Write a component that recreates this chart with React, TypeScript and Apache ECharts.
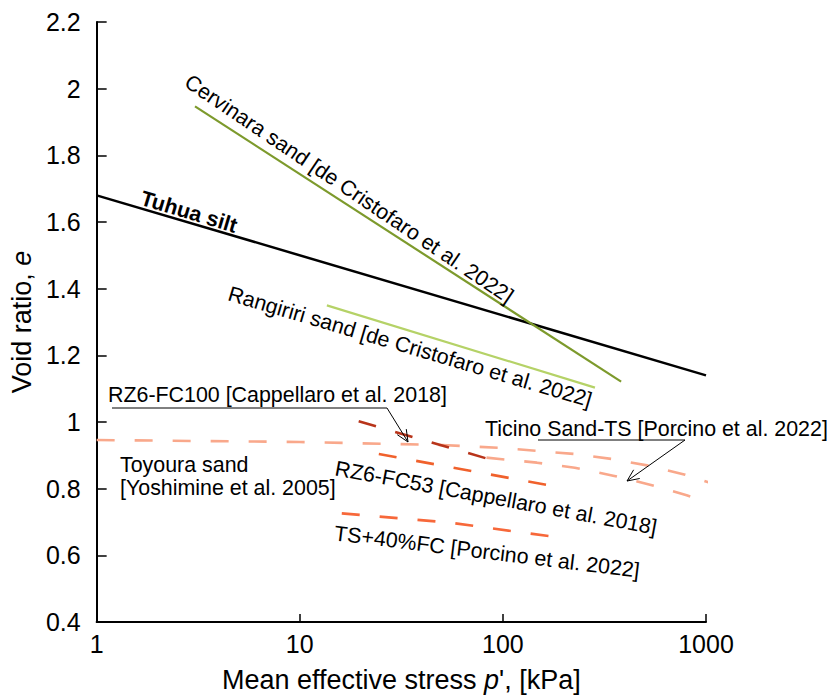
import React, { useEffect, useRef } from "react";
import * as echarts from "echarts";

// ---- data ----
const xTickValues = [1, 10, 100, 1000];
const yMin = 0.4;
const yMax = 2.2;
const yStep = 0.2;

const tuhuaSilt = [[1, 1.68], [1000, 1.14]];
const cervinaraSand = [[3.05, 1.947], [382, 1.121]];
const rangiririSand = [[13.6, 1.35], [284, 1.103]];
const toyouraSand = [[1, 0.946], [10, 0.94], [50, 0.931]];
const ticinoUpper = [[50, 0.931], [99, 0.922], [225, 0.904], [344, 0.889], [523, 0.869], [790, 0.842], [1200, 0.806]];
const ticinoLower = [[83, 0.893], [147, 0.878], [226, 0.863], [349, 0.839], [530, 0.812], [803, 0.78], [1120, 0.75]];
const rz6Fc100 = [[19.5, 1.002], [98, 0.878]];
const rz6Fc53 = [[24.5, 0.904], [195, 0.803]];
const ts40Fc = [[16.1, 0.726], [55, 0.698], [181, 0.655]];

const FONT = "'Liberation Sans', Arial, sans-serif";

function arrowHead(from: number[], tip: number[], len = 13, ang = 0.42) {
  const dx = tip[0] - from[0];
  const dy = tip[1] - from[1];
  const d = Math.hypot(dx, dy);
  const ux = dx / d, uy = dy / d;
  const rot = (a: number) => [
    tip[0] - len * (ux * Math.cos(a) - uy * Math.sin(a)),
    tip[1] - len * (ux * Math.sin(a) + uy * Math.cos(a)),
  ];
  return [rot(ang), tip, rot(-ang)];
}

function label(text: string, x: number, y: number, rotDeg: number, opts: any = {}) {
  return {
    type: "text",
    x,
    y,
    rotation: (-rotDeg * Math.PI) / 180,
    z: 10,
    style: {
      text,
      fontFamily: FONT,
      fontSize: opts.fontSize || 21.4,
      fontWeight: opts.fontWeight || "normal",
      fill: "#000",
      align: opts.align || "center",
      textAlign: opts.align || "center",
      verticalAlign: "middle",
      textVerticalAlign: "middle",
    },
  };
}

function lineSeries(name: string, data: number[][], color: string, width: number, dashed: boolean) {
  return {
    name,
    type: "line",
    data,
    symbol: "none",
    clip: false,
    lineStyle: {
      color,
      width,
      type: dashed ? [18, 20] : "solid",
      cap: "butt",
    },
  };
}

export default function App() {
  const ref = useRef<HTMLDivElement>(null);

  useEffect(() => {
    if (!ref.current) return;
    const chart = echarts.init(ref.current, null, { renderer: "svg" });

    const fc100From = [387, 408];
    const fc100Tip = [408, 442];
    const ticFrom = [685, 440];
    const ticTip = [627, 481];

    chart.setOption({
      animation: false,
      backgroundColor: "#fff",
      grid: { left: 96, right: 121, top: 22, bottom: 70, containLabel: false },
      xAxis: {
        type: "log",
        logBase: 10,
        min: xTickValues[0],
        max: xTickValues[xTickValues.length - 1],
        name: "Mean effective stress {i|p}', [kPa]",
        nameLocation: "middle",
        nameGap: 44,
        nameTextStyle: {
          fontFamily: FONT,
          fontSize: 27,
          color: "#000",
          rich: { i: { fontStyle: "italic", fontFamily: FONT, fontSize: 27, color: "#000" } },
        },
        axisLine: { show: true, onZero: false, lineStyle: { color: "#000", width: 2 } },
        axisTick: { show: true, inside: true, length: 8, lineStyle: { color: "#000", width: 1.5 } },
        minorTick: { show: false },
        splitLine: { show: false },
        axisLabel: {
          fontFamily: FONT,
          fontSize: 25,
          color: "#000",
          margin: 9,
          formatter: (v: number) => String(Math.round(v)),
        },
      },
      yAxis: {
        type: "value",
        min: yMin,
        max: yMax,
        interval: yStep,
        name: "Void ratio, {i|e}",
        nameLocation: "middle",
        nameGap: 57,
        nameTextStyle: {
          fontFamily: FONT,
          fontSize: 27,
          color: "#000",
          rich: { i: { fontStyle: "italic", fontFamily: FONT, fontSize: 27, color: "#000" } },
        },
        axisLine: { show: true, onZero: false, lineStyle: { color: "#000", width: 2 } },
        axisTick: { show: true, inside: true, length: 10, lineStyle: { color: "#000", width: 1.5 } },
        splitLine: { show: false },
        axisLabel: {
          fontFamily: FONT,
          fontSize: 25,
          color: "#000",
          margin: 16,
          formatter: (v: number) => String(Math.round(v * 10) / 10),
        },
      },
      series: [
        lineSeries("Tuhua silt", tuhuaSilt, "#000000", 2.5, false),
        lineSeries("Cervinara sand", cervinaraSand, "#7d9a2c", 2.2, false),
        lineSeries("Rangiriri sand", rangiririSand, "#b5d267", 2.2, false),
        lineSeries("Toyoura sand", toyouraSand, "#f9a88b", 2.6, true),
        lineSeries("Ticino Sand-TS upper", ticinoUpper, "#f9a88b", 2.6, true),
        lineSeries("Ticino Sand-TS lower", ticinoLower, "#f9a88b", 2.6, true),
        lineSeries("RZ6-FC100", rz6Fc100, "#b8341a", 2.6, true),
        lineSeries("RZ6-FC53", rz6Fc53, "#f0612c", 2.6, true),
        lineSeries("TS+40%FC", ts40Fc, "#f7683a", 2.6, true),
      ],
      graphic: [
        label("Tuhua silt", 189, 212, 16.7, { fontWeight: "bold" }),
        label("Cervinara sand [de Cristofaro et al. 2022]", 349, 189, 34),
        label("Rangiriri sand [de Cristofaro et al. 2022]", 410, 347, 16.5),
        label("RZ6-FC100 [Cappellaro et al. 2018]", 108, 395, 0, { align: "left" }),
        label("Ticino Sand-TS [Porcino et al. 2022]", 485, 429, 0, { align: "left" }),
        label("Toyoura sand", 120, 465, 0, { align: "left" }),
        label("[Yoshimine et al. 2005]", 120, 488, 0, { align: "left" }),
        label("RZ6-FC53 [Cappellaro et al. 2018]", 496, 498, 10.5),
        label("TS+40%FC [Porcino et al. 2022]", 487, 552, 7),
        {
          type: "polyline",
          z: 10,
          shape: { points: [[112, 408], fc100From, fc100Tip] },
          style: { stroke: "#000", lineWidth: 1, fill: null },
        },
        {
          type: "polyline",
          z: 10,
          shape: { points: arrowHead(fc100From, fc100Tip) },
          style: { stroke: "#000", lineWidth: 1, fill: null },
        },
        {
          type: "polyline",
          z: 10,
          shape: { points: [[538, 440], ticFrom, ticTip] },
          style: { stroke: "#000", lineWidth: 1, fill: null },
        },
        {
          type: "polyline",
          z: 10,
          shape: { points: arrowHead(ticFrom, ticTip) },
          style: { stroke: "#000", lineWidth: 1, fill: null },
        },
      ],
    });

    return () => chart.dispose();
  }, []);

  return (
    <div
      ref={ref}
      style={{ position: "fixed", left: 0, top: 0, width: 827, height: 698, background: "#fff" }}
    />
  );
}
